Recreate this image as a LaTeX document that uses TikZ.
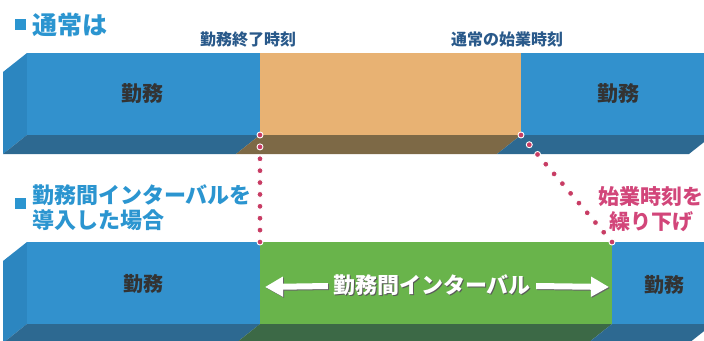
\documentclass[tikz,border=0pt]{standalone}
\usepackage{fontspec}
\newfontfamily\jp{Noto Sans CJK JP}
\usetikzlibrary{calc}
\usetikzlibrary{arrows.meta}

\definecolor{barblue}{HTML}{3291CD}
\definecolor{barside}{HTML}{2C86C0}
\definecolor{barblueD}{HTML}{2D6991}
\definecolor{bartan}{HTML}{E8B273}
\definecolor{bartanD}{HTML}{7D6946}
\definecolor{bargreen}{HTML}{69B44B}
\definecolor{bargreenD}{HTML}{3C6946}
\definecolor{titleblue}{HTML}{2B95D0}
\definecolor{timeblue}{HTML}{29598A}
\definecolor{worktext}{HTML}{333333}
\definecolor{shiftpink}{HTML}{D2467A}
\definecolor{dotred}{HTML}{C83C64}

\newcommand\jsize[1]{\jp\bfseries\fontsize{#1}{#1}\selectfont}
\newcommand\shadowtext[1]{\rlap{\kern1pt\raisebox{-1pt}{\color{black!65}#1}}#1}

\begin{document}
\begin{tikzpicture}[x=1pt, y=-1pt,
    every node/.style={inner sep=0pt},
    title/.style={text=titleblue, anchor=west, align=left},
    bullet/.style={fill=titleblue, minimum size=11pt},
    worklabel/.style={text=worktext, font=\jsize{21}},
    timelabel/.style={text=timeblue, font=\jsize{16}},
    dotpt/.style={fill=dotred, draw=white, line width=0.9pt},
    fatarrow/.style={white, line width=6pt, -{Triangle[length=18pt,width=19pt]}},
    fatshadow/.style={black!60, line width=6pt, -{Triangle[length=18pt,width=19pt]},
        transform canvas={xshift=1pt,yshift=-1pt}}]
    \useasboundingbox (0,0) rectangle (704,340);
    \clip (0,0) rectangle (704,340);

    % normal case
    \fill[barside] (27,53) -- (3,72) -- (3,154) -- (27,135) -- cycle;
    \foreach \xa/\xb/\fc/\bc in {27/260/barblue/barblueD, 260/521/bartan/bartanD, 521/713/barblue/barblueD} {
        \fill[\fc] (\xa,53) rectangle (\xb,135);
        \fill[\bc] (\xa,135) -- (\xb,135) -- (\xb-24,154) -- (\xa-24,154) -- cycle;
    }

    % with interval
    \fill[barside] (27,242) -- (3,261) -- (3,343) -- (27,324) -- cycle;
    \foreach \xa/\xb/\fc/\bc in {27/260/barblue/barblueD, 260/612/bargreen/bargreenD, 612/713/barblue/barblueD} {
        \fill[\fc] (\xa,242) rectangle (\xb,324);
        \fill[\bc] (\xa,324) -- (\xb,324) -- (\xb-24,343) -- (\xa-24,343) -- cycle;
    }

    \node[bullet] (sqA) at (20,24) {};
    \node[title, font=\jsize{25}] (normal) at (32,25) {通常は};
    \node[timelabel] (endtime) at (248,39) {勤務終了時刻};
    \node[timelabel] (starttime) at (507,39) {通常の始業時刻};
    \node[worklabel] (workA) at (142,94) {勤務};
    \node[worklabel] (workB) at (618,94) {勤務};

    \node[bullet] (sqB) at (20,203) {};
    \node[title, font=\jp\bfseries\fontsize{22}{25}\selectfont] (interval) at (32,208)
        {勤務間インターバルを\\導入した場合};
    \node[text=shiftpink, align=center, font=\jp\bfseries\fontsize{21}{25}\selectfont]
        (shifted) at (651,209) {始業時刻を\\繰り下げ};
    \node[worklabel, font=\jsize{20}] (workC) at (143,284) {勤務};
    \node[worklabel, font=\jsize{20}] (workD) at (664,285) {勤務};

    \node[text=white, font=\jsize{22}] (gap) at (432,286) {\shadowtext{勤務間インターバル}};
    \coordinate (gapL) at (265,287);
    \coordinate (gapR) at (609,287);
    \draw[fatshadow] ([xshift=-5pt]gap.west) -- (gapL);
    \draw[fatshadow] ([xshift=5pt]gap.east) -- (gapR);
    \draw[fatarrow] ([xshift=-5pt]gap.west) -- (gapL);
    \draw[fatarrow] ([xshift=5pt]gap.east) -- (gapR);

    % dotted guides
    \coordinate (endT) at (260,135);
    \coordinate (endB) at (260,242);
    \coordinate (startT) at (521,135);
    \coordinate (startB) at (612,242);
    \foreach \t in {0,...,9}
        \filldraw[dotpt] ($(endT)!\t/9!(endB)$) circle (3);
    \foreach \t in {0,...,11}
        \filldraw[dotpt] ($(startT)!\t/11!(startB)$) circle (3);
\end{tikzpicture}
\end{document}
